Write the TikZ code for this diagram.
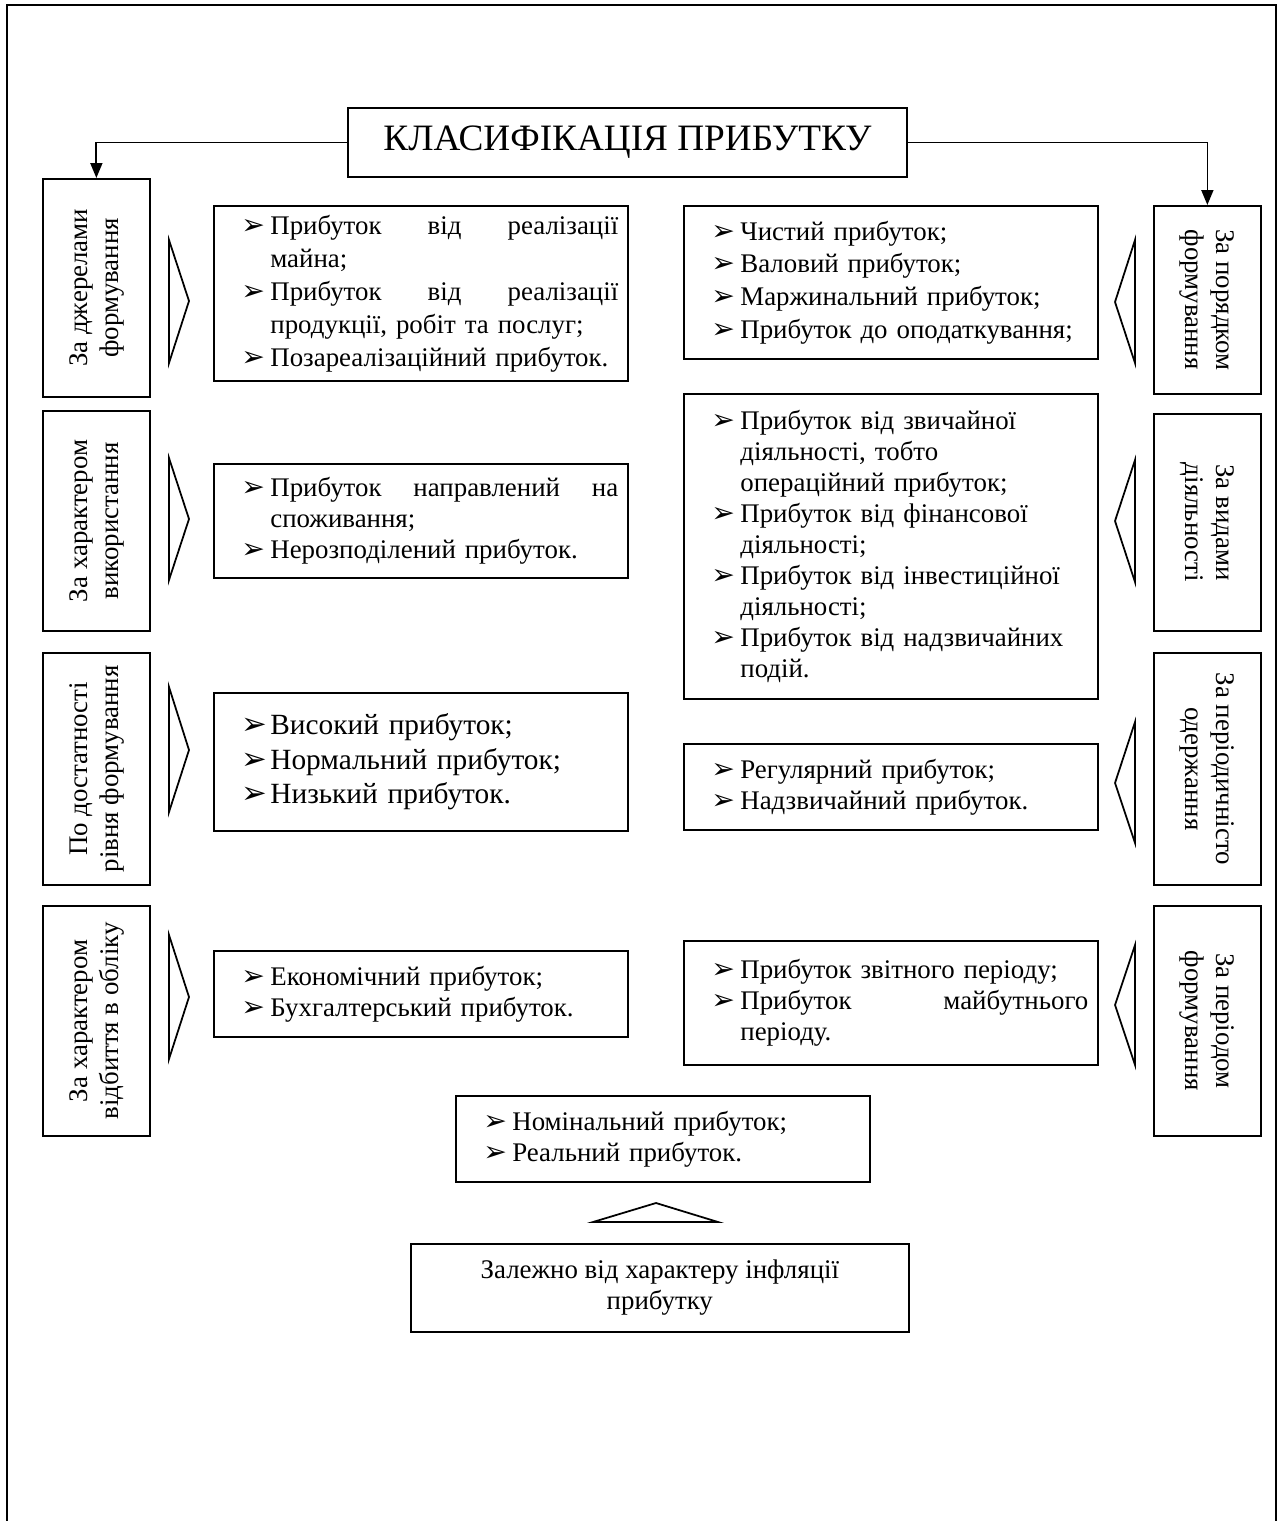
\documentclass[tikz,border=0pt]{standalone}
\usepackage{fontspec}
\setmainfont{Liberation Serif}
\newfontfamily\dejavu{DejaVu Sans}
\usetikzlibrary{arrows.meta, positioning}

\newcommand{\bul}{{\dejavu\scalebox{1.05}{➢}}}
\newcommand{\itm}[1]{\edef\itmskip{\the\baselineskip}%
  \noindent\makebox[0.94cm][l]{\hspace{0.36cm}\bul}%
  \parbox[t]{6.96cm}{\baselineskip=\itmskip\relax #1\par\xdef\itmdp{\the\prevdepth}}%
  \par\prevdepth=\itmdp\relax}
\newcommand{\vtxt}[2]{\rotatebox{90}{\begin{tabular}{@{}c@{}}#1\\#2\end{tabular}}}
\newcommand{\vtxtr}[2]{\rotatebox{-90}{\begin{tabular}{@{}c@{}}#1\\#2\end{tabular}}}

\tikzstyle{heading} = [
  rectangle,
  minimum width=11.18cm,
  minimum height=1.38cm,
  text centered,
  draw=black,
  line width=1pt,
  inner sep=0,
  font=\fontsize{21.2}{25}\selectfont
]
\tikzstyle{side} = [
  rectangle,
  minimum width=2.14cm,
  draw=black,
  line width=1pt,
  inner sep=0,
  anchor=north west,
  font=\fontsize{15.3}{17.6}\selectfont
]
\tikzstyle{list} = [
  rectangle,
  text width=7.9cm,
  inner xsep=0.19cm,
  inner ysep=0,
  draw=black,
  line width=1pt,
  anchor=north west,
  font=\fontsize{15.3}{17.6}\selectfont
]
\tikzstyle{note} = [
  rectangle,
  minimum width=9.96cm,
  minimum height=1.76cm,
  align=center,
  draw=black,
  line width=1pt,
  inner sep=0,
  anchor=north west,
  font=\fontsize{15.3}{17.6}\selectfont
]
\tikzstyle{wedge} = [
  line width=1pt,
  line join=miter
]
\tikzstyle{arrow} = [
  line width=1pt,
  -{Triangle[length=0.3cm, width=0.24cm]}
]

\begin{document}
\begin{tikzpicture}[x=0.02cm, y=-0.02cm]

    \useasboundingbox (0,0) rectangle (1280,1521);
    \draw [line width=1.2pt] (7,1521) |- (1276,5) -- (1276,1521);

    \node (title) [heading] at (627.5,142.5) {КЛАСИФІКАЦІЯ ПРИБУТКУ};

    % left column
    \node (src) [side, minimum height=4.36cm] at (42,178) {\vtxt{За джерелами}{формування}};
    \node (use) [side, minimum height=4.4cm] at (42,410) {\vtxt{За характером}{використання}};
    \node (lev) [side, minimum height=4.64cm] at (42,652) {\vtxt{По достатності}{рівня формування}};
    \node (acc) [side, minimum height=4.6cm] at (42,905) {\vtxt{За характером}{відбиття в обліку}};

    \node (srcl) [list, minimum height=3.5cm, font=\fontsize{15.3}{18.8}\selectfont] at (213,205) {%
      \itm{Прибуток\hfill від\hfill реалізації\\майна;}
      \itm{Прибуток\hfill від\hfill реалізації\\продукції, робіт та послуг;}
      \itm{Позареалізаційний прибуток.}};
    \node (usel) [list, minimum height=2.28cm] at (213,463) {%
      \itm{Прибуток\hfill направлений\hfill на\\споживання;}
      \itm{Нерозподілений прибуток.}};
    \node (levl) [list, minimum height=2.76cm, font=\fontsize{16.7}{19.5}\selectfont] at (213,692) {%
      \itm{Високий прибуток;}
      \itm{Нормальний прибуток;}
      \itm{Низький прибуток.}};
    \node (accl) [list, minimum height=1.72cm] at (213,950) {%
      \itm{Економічний прибуток;}
      \itm{Бухгалтерський прибуток.}};

    \draw [wedge] (169,240) -- (189,301) -- (169,363) -- cycle;
    \draw [wedge] (169,458) -- (189,519) -- (169,580) -- cycle;
    \draw [wedge] (169,687) -- (189,750) -- (169,812) -- cycle;
    \draw [wedge] (169,935) -- (189,997) -- (169,1059) -- cycle;

    % right column
    \node (ord) [side, minimum height=3.76cm] at (1153,205) {\vtxtr{За порядком}{формування}};
    \node (act) [side, minimum height=4.34cm] at (1153,413) {\vtxtr{За видами}{діяльності}};
    \node (per) [side, minimum height=4.64cm] at (1153,652) {\vtxtr{За періодичністо}{одержання}};
    \node (term) [side, minimum height=4.6cm] at (1153,905) {\vtxtr{За періодом}{формування}};

    \node (ordl) [list, minimum height=3.06cm, font=\fontsize{15.3}{18.6}\selectfont] at (683,205) {%
      \itm{Чистий прибуток;}
      \itm{Валовий прибуток;}
      \itm{Маржинальний прибуток;}
      \itm{Прибуток до оподаткування;}};
    \node (actl) [list, minimum height=6.1cm] at (683,393) {%
      \itm{Прибуток від звичайної\\діяльності, тобто\\операційний прибуток;}
      \itm{Прибуток від фінансової\\діяльності;}
      \itm{Прибуток від інвестиційної\\діяльності;}
      \itm{Прибуток від надзвичайних\\подій.}};
    \node (perl) [list, minimum height=1.72cm] at (683,743) {%
      \itm{Регулярний прибуток;}
      \itm{Надзвичайний прибуток.}};
    \node (terml) [list, minimum height=2.48cm] at (683,940) {%
      \itm{Прибуток звітного періоду;}
      \itm{Прибуток\hfill майбутнього\\періоду.}};

    \draw [wedge] (1135,240) -- (1115,302) -- (1135,363) -- cycle;
    \draw [wedge] (1135,460) -- (1115,521) -- (1135,582) -- cycle;
    \draw [wedge] (1135,722) -- (1115,783) -- (1135,843) -- cycle;
    \draw [wedge] (1135,945) -- (1115,1005) -- (1135,1065) -- cycle;

    % bottom
    \node (infl) [list, minimum height=1.72cm] at (455,1095) {%
      \itm{Номінальний прибуток;}
      \itm{Реальний прибуток.}};
    \draw [wedge] (593,1222) -- (656,1203) -- (718,1222) -- cycle;
    \node (inf) [note] at (410,1243) {Залежно від характеру інфляції\\прибутку};

    \draw [arrow] (title.west) -| (src.north);
    \draw [arrow] (title.east) -| (ord.north);

  \end{tikzpicture}
\end{document}
